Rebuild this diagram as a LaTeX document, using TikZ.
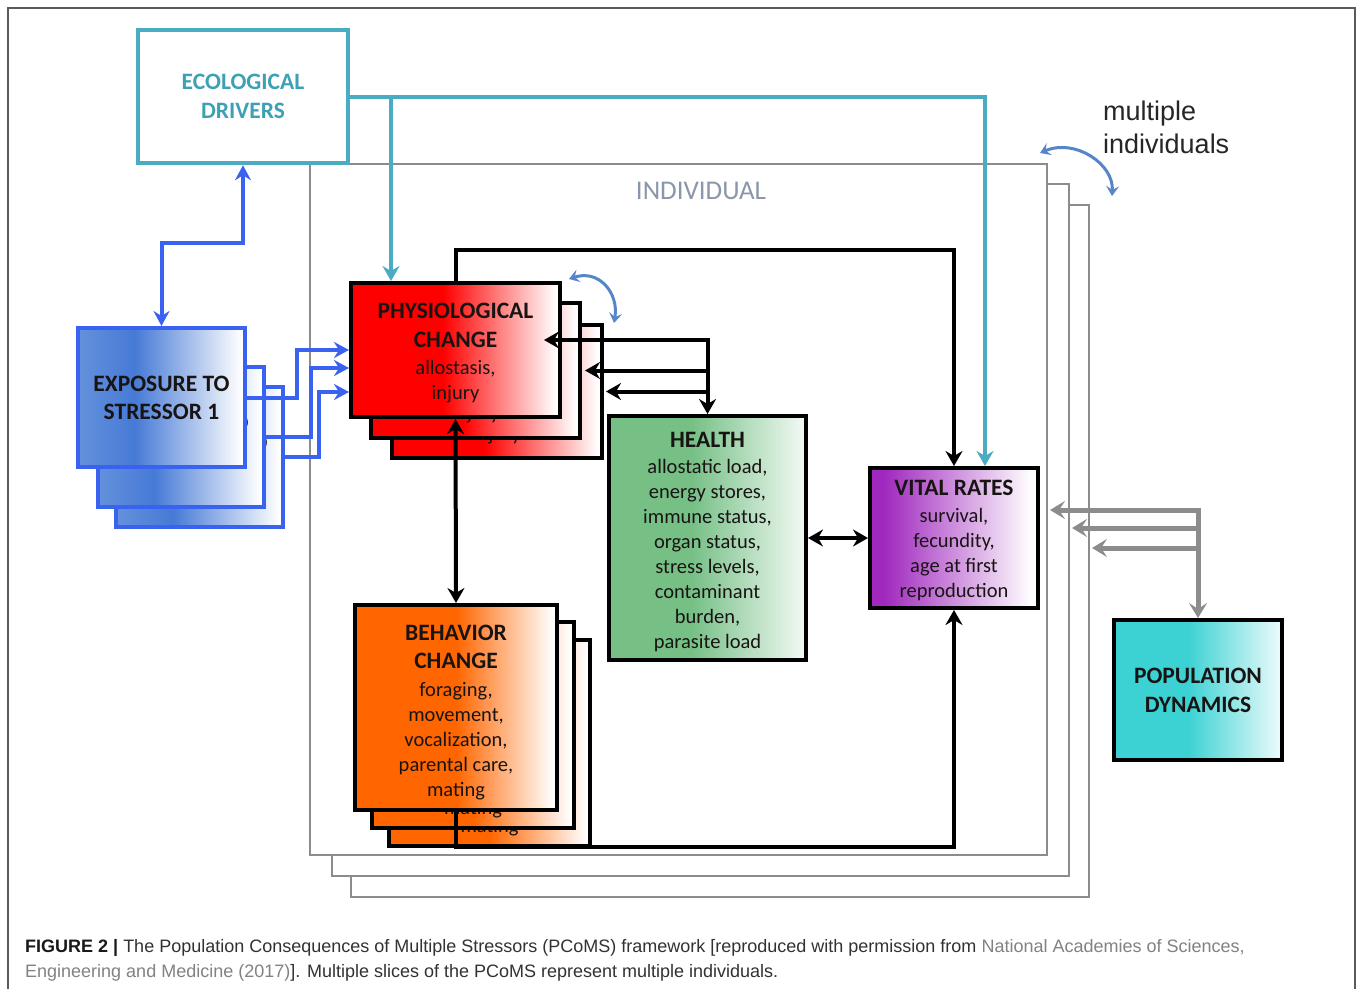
\documentclass[tikz,border=0pt]{standalone}
\usepackage{fontspec}
\setmainfont{Carlito}
\newfontfamily\arialf{Liberation Sans}
\usetikzlibrary{arrows.meta,calc}

\definecolor{physred}{RGB}{255,0,0}
\definecolor{behor}{RGB}{255,102,0}
\definecolor{hgreen}{RGB}{118,192,134}
\colorlet{hgreenL}{hgreen!8!white}
\definecolor{vpurp}{RGB}{160,40,190}
\definecolor{pcyan}{RGB}{60,210,212}
\colorlet{pcyanL}{pcyan!8!white}
\definecolor{eblue}{RGB}{70,122,214}
\definecolor{eblueL}{RGB}{100,145,220}
\definecolor{bline}{RGB}{58,98,240}
\definecolor{tealc}{RGB}{74,172,194}
\definecolor{tealtxt}{RGB}{62,160,180}
\definecolor{slicec}{RGB}{140,140,140}
\definecolor{grayarr}{RGB}{140,140,140}
\definecolor{curvc}{RGB}{84,134,200}
\definecolor{indc}{RGB}{138,150,170}
\definecolor{captxt}{RGB}{50,50,50}
\definecolor{capgray}{RGB}{130,130,130}
\definecolor{framec}{RGB}{90,90,90}
\definecolor{boxtxt}{RGB}{25,20,20}

\pgfdeclarehorizontalshading{physsh}{100bp}{color(0bp)=(physred); color(25bp)=(physred); color(47bp)=(physred); color(74bp)=(white); color(100bp)=(white)}
\pgfdeclarehorizontalshading{behsh}{100bp}{color(0bp)=(behor); color(25bp)=(behor); color(50bp)=(behor); color(74bp)=(white); color(100bp)=(white)}
\pgfdeclarehorizontalshading{healsh}{100bp}{color(0bp)=(hgreen); color(25bp)=(hgreen); color(46bp)=(hgreen); color(75bp)=(hgreenL); color(100bp)=(hgreenL)}
\pgfdeclarehorizontalshading{vitsh}{100bp}{color(0bp)=(vpurp); color(25bp)=(vpurp); color(29bp)=(vpurp); color(73bp)=(white); color(100bp)=(white)}
\pgfdeclarehorizontalshading{popsh}{100bp}{color(0bp)=(pcyan); color(25bp)=(pcyan); color(47bp)=(pcyan); color(75bp)=(pcyanL); color(100bp)=(pcyanL)}
\pgfdeclarehorizontalshading{expsh}{100bp}{color(0bp)=(eblueL); color(25bp)=(eblueL); color(42bp)=(eblue); color(74bp)=(white); color(100bp)=(white)}

\newcommand\bhd[1]{{\bfseries\fontsize{23.5}{25}\selectfont #1}}
\newcommand\tup[1]{\rule{0pt}{#1}}
\newcommand\phystext{\tup{21pt}\bhd{PHYSIOLOGICAL}\\[4pt]\bhd{CHANGE}\\[2pt]allostasis,\\injury}
\newcommand\behavtext{\tup{26pt}\bhd{BEHAVIOR}\\[3pt]\bhd{CHANGE}\\[3pt]foraging,\\movement,\\vocalization,\\parental care,\\mating}

\tikzset{
  box/.style={draw=black, line width=4pt, inner sep=0pt, align=center, text=boxtxt,
    font=\fontsize{20.5}{25}\selectfont, shade},
  slicebox/.style={draw=slicec, fill=white, line width=2pt, inner sep=0pt},
  blk/.style={draw=black, line width=4pt, >={Stealth[length=15pt,width=17pt,inset=5pt]}},
  tl/.style={draw=tealc, line width=4pt, >={Stealth[length=15pt,width=17pt,inset=5pt]}},
  bl/.style={draw=bline, line width=4pt, >={Stealth[length=15pt,width=16pt,inset=5pt]}},
  gr/.style={draw=grayarr, line width=5pt, >={Stealth[length=15pt,width=18pt,inset=6pt]}},
  cv/.style={draw=curvc, line width=3pt, >={Stealth[length=10pt,width=13pt,inset=4pt]}},
}

\begin{document}
\begin{tikzpicture}[x=1pt,y=-1pt]
\useasboundingbox (0,0) rectangle (1360,988);
\fill[white] (0,0) rectangle (1360,988);
\draw[framec, line width=1.5pt] (8,992) -- (8,8) -- (1355,8) -- (1355,992);

% individual slices
\node[slicebox, minimum width=738pt, minimum height=692pt] (s3) at (720,551) {};
\node[slicebox, minimum width=737pt, minimum height=692pt] (s2) at (700.5,530) {};
\node[slicebox, minimum width=737pt, minimum height=691pt] (s1) at (678.5,509.5) {};
\node[font=\fontsize{27}{30}\selectfont, text=indc] (indiv) at (701,191) {INDIVIDUAL};

% ecological drivers
\node[draw=tealc, fill=white, line width=4.5pt, inner sep=0pt, align=center, text=tealtxt,
  font=\fontsize{20.5}{25}\selectfont,
  minimum width=210pt, minimum height=133pt] (eco) at (243,96.5) {\bhd{ECOLOGICAL}\\[4pt]\bhd{DRIVERS}};

% exposure boxes
\node[box, draw=bline, shading=expsh, minimum width=167pt, minimum height=140pt] (expo3) at (199.5,457) {\bhd{EXPOSURE TO}\\[3pt]\bhd{STRESSOR 3}};
\node[box, draw=bline, shading=expsh, minimum width=166pt, minimum height=140pt] (expo2) at (180.5,437) {\bhd{EXPOSURE TO}\\[3pt]\bhd{STRESSOR 2}};
\node[box, draw=bline, shading=expsh, minimum width=167pt, minimum height=139pt] (expo) at (161.5,397.5) {\bhd{EXPOSURE TO}\\[3pt]\bhd{STRESSOR 1}};

% physiological change
\node[box, shading=physsh, minimum width=210pt, minimum height=133pt] (phys3) at (497,391.5) {\phystext};
\node[box, shading=physsh, minimum width=209pt, minimum height=135pt] (phys2) at (475.5,370.5) {\phystext};
\node[box, shading=physsh, minimum width=209pt, minimum height=134pt] (phys) at (455.5,350) {\phystext};

% behavior change
\node[box, shading=behsh, minimum width=201pt, minimum height=206pt] (behav3) at (489.5,743) {\behavtext};
\node[box, shading=behsh, minimum width=202pt, minimum height=206pt] (behav2) at (473,725) {\behavtext};
\node[box, shading=behsh, minimum width=202pt, minimum height=205pt] (behav) at (456,707.5) {\behavtext};

% health
\node[box, shading=healsh, minimum width=197pt, minimum height=244pt] (health) at (707.5,538) {\tup{23pt}\bhd{HEALTH}\\[1pt]allostatic load,\\energy stores,\\immune status,\\organ status,\\stress levels,\\contaminant\\burden,\\parasite load};

% vital rates
\node[box, shading=vitsh, minimum width=168pt, minimum height=140pt] (vital) at (954,538) {\tup{21pt}\bhd{VITAL RATES}\\[2pt]survival,\\fecundity,\\age at first\\reproduction};

% population dynamics
\node[box, shading=popsh, minimum width=168pt, minimum height=140pt] (pop) at (1198,690) {\bhd{POPULATION}\\[4pt]\bhd{DYNAMICS}};

% multiple individuals label
\node[font=\arialf\fontsize{27}{33}\selectfont, align=left, anchor=west, inner sep=0pt, text=black!85] (multi) at (1103,127) {multiple\\individuals};

% black connectors
\draw[blk,->] (phys.north) -- ++(0,-31) -| (vital.north);
\draw[blk,<->] (phys.south) -- (behav.north);
\draw[blk,->] (behav.south) -- ++(0,35) -| (vital.south);
\draw[blk,<->] (health.east) -- (vital.west);
\coordinate (hj) at ($(health.north)+(0,-76)$);
\draw[blk,<->] ($(phys.east)+(-18,-10)$) -| (health.north);
\draw[blk,->] (hj |- phys2.east) -- ($(phys2.east)+(3,0)$);
\draw[blk,->] (hj |- phys3.east) -- ($(phys3.east)+(2,0)$);

% teal connectors
\coordinate (tp) at ($(phys.north west)+(42,0)$);
\draw[tl,->] (eco.east) -| ($(vital.north)+(31,0)$);
\draw[tl,->] (eco.east -| tp) -- (tp);

% blue connectors
\draw[bl,<->] (expo.north) -- ++(0,-83) -| (eco.south);
\draw[bl,->] (expo.east) -- ++(50,0) |- (phys.west);
\draw[bl,->] (expo2.east) -- ++(45,0) |- ($(phys.west)+(0,18)$);
\draw[bl,->] (expo3.east) -- ++(34,0) |- ($(phys.west)+(0,42)$);

% gray connectors
\draw[gr,<->] ($(vital.east)+(10,-28)$) -| (pop.north);
\coordinate (g2) at ($(vital.east)+(32,-10)$);
\coordinate (g3) at ($(vital.east)+(52,10)$);
\draw[gr,->] (pop.north |- g2) -- (g2);
\draw[gr,->] (pop.north |- g3) -- (g3);

% curved double arrows
\coordinate (c1a) at ($(phys.north east)+(7,-2)$);
\coordinate (c1b) at ($(phys3.north east)+(10,0)$);
\draw[cv,<->] (c1a) .. controls ($(c1a)+(30,-10)$) and ($(c1b)+(5,-30)$) .. (c1b);
\coordinate (c2a) at ($(s1.north east)+(-8,-10)$);
\coordinate (c2b) at ($(s3.north east)+(22,-8)$);
\draw[cv,<->] (c2a) .. controls ($(c2a)+(35,-15)$) and ($(c2b)+(2,-32)$) .. (c2b);

% caption
\node[anchor=base west, inner sep=0pt, font=\arialf\fontsize{18}{25}\selectfont, text=captxt] (cap1) at (25,952)
  {\textcolor{black!90}{\textbf{FIGURE 2 |}} The Population Consequences of Multiple Stressors (PCoMS) framework [reproduced with permission from \textcolor{capgray}{National Academies of Sciences,}};
\node[anchor=base west, inner sep=0pt, font=\arialf\fontsize{18}{25}\selectfont, text=captxt] (cap2) at (25,977)
  {\textcolor{capgray}{Engineering and Medicine (2017)}]. Multiple slices of the PCoMS represent multiple individuals.};
\end{tikzpicture}
\end{document}
